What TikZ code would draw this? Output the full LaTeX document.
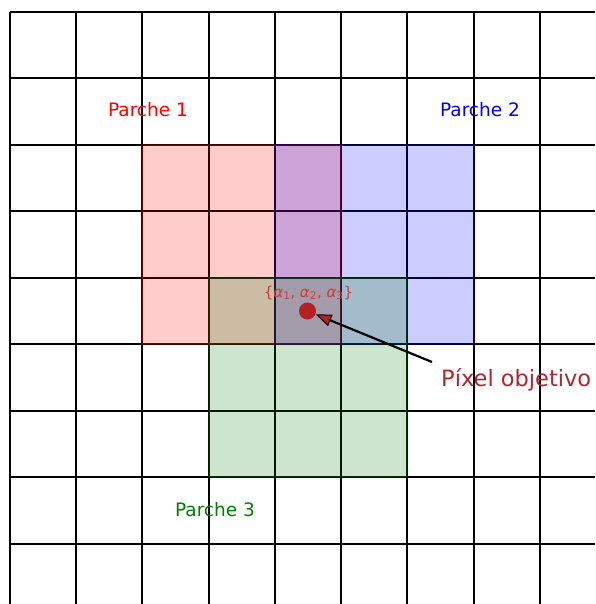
\documentclass[tikz,border=0pt]{standalone}
\usepackage{fontspec}
\setmainfont{DejaVu Sans}
\usetikzlibrary{arrows.meta}
\definecolor{pxred}{RGB}{255,0,0}
\definecolor{pxblue}{RGB}{0,0,255}
\definecolor{pxgreen}{RGB}{0,128,0}
\definecolor{target}{RGB}{178,34,34}
\definecolor{targettext}{RGB}{172,40,48}
\definecolor{labred}{RGB}{205,60,60}
\tikzset{
  gridline/.style={line width=1.5pt, black},
  patch/.style={fill=#1, fill opacity=0.2, draw=#1, draw opacity=0.25, line width=2.5pt},
  plabel/.style={font=\fontsize{18.5}{21}\selectfont, anchor=base, inner sep=0pt},
}
\begin{document}
\begin{tikzpicture}[x=1pt,y=-1pt]
\useasboundingbox (0,0) rectangle (595,604);
\fill[white] (0,0) rectangle (595,604);
% grid
\foreach \gx in {10,76,142,209,275,341,407,474,540} {
  \draw[gridline] (\gx,12) -- (\gx,604);
}
\foreach \gy in {12,78,145,211,278,344,411,477,544} {
  \draw[gridline] (10,\gy) -- (595,\gy);
}
% patches
\draw[patch=pxred]   (142,145) rectangle (341,344);
\draw[patch=pxblue]  (275,145) rectangle (474,344);
\draw[patch=pxgreen] (209,278) rectangle (407,477);
% labels
\node[plabel, text=pxred]   (p1) at (148,117) {Parche 1};
\node[plabel, text=pxblue]  (p2) at (480,117) {Parche 2};
\node[plabel, text=pxgreen] (p3) at (215,516) {Parche 3};
% target pixel
\node[circle, fill=target, minimum size=17pt, inner sep=0pt] (pix) at (307.5,311) {};
\node[font=\fontsize{15}{17}\selectfont, text=labred, anchor=base, inner sep=0pt] (alph) at (308.5,297)
  {\{\textit{α}\textsubscript{1}, \textit{α}\textsubscript{2}, \textit{α}\textsubscript{3}\}};
\node[font=\fontsize{22.5}{25}\selectfont, text=targettext, anchor=base west, inner sep=0pt] (obj) at (441,386) {Píxel objetivo};
\coordinate (tail) at (432,362);
\draw[line width=2.2pt, black, -{Triangle[length=16pt,width=12pt,fill=target,line width=1pt]}] (tail) -- (pix);
\end{tikzpicture}
\end{document}
